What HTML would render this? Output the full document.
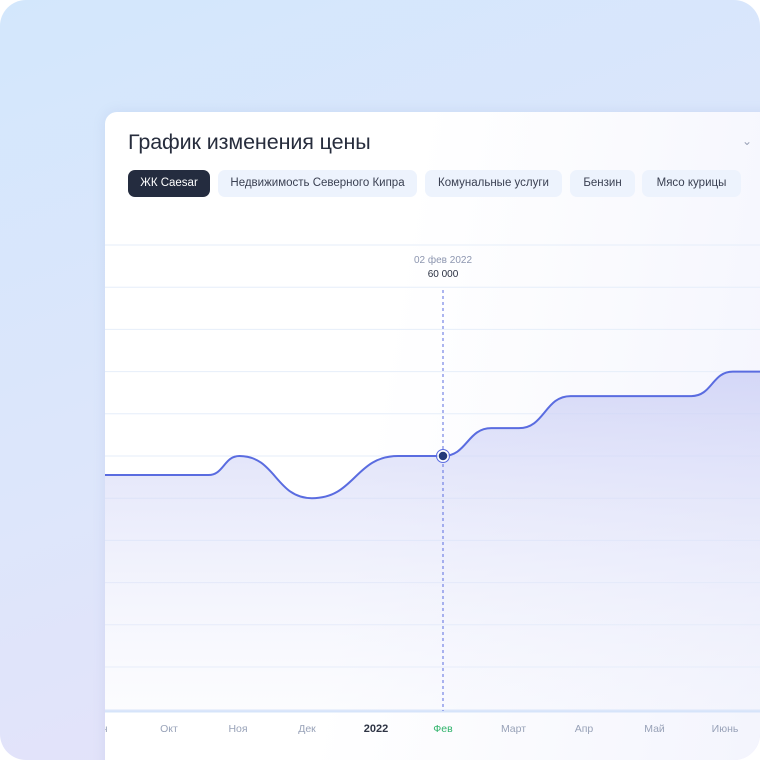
<!DOCTYPE html>
<html><head><meta charset="utf-8"><style>
html,body{margin:0;padding:0;background:#fff}
#root{width:760px;height:760px;position:relative;overflow:hidden;border-radius:26px;background:linear-gradient(160deg,#d3e7fc 0%,#dde6fb 50%,#e7e0f8 100%);font-family:"Liberation Sans","DejaVu Sans",sans-serif}
#card{position:absolute;left:105px;top:112px;width:680px;height:680px;border-radius:12px 0 0 0;background:linear-gradient(100deg,#ffffff 40%,#f3f4fd 100%);box-shadow:0 0 12px rgba(120,140,200,.15)}
h1{position:absolute;left:23px;top:18px;margin:0;font-size:21.5px;font-weight:500;color:#272d3d;letter-spacing:-0.1px}
.chev{position:absolute;left:637px;top:22px;color:#9aa3b8;font-size:12px}
.pill{position:absolute;top:58px;height:27px;line-height:27px;border-radius:7px;background:#edf3fd;color:#3a4052;font-size:11.5px;text-align:center}
.pill.active{background:#242c3f;color:#fff}
svg{position:absolute;left:0;top:0}
</style></head><body>
<div id="root">
<div id="card">
<h1>График изменения цены</h1>
<div class="chev">&#8964;</div>
<div class="pill active" style="left:23px;width:82px">ЖК Caesar</div>
<div class="pill" style="left:113px;width:199px">Недвижимость Северного Кипра</div>
<div class="pill" style="left:320px;width:137px">Комунальные услуги</div>
<div class="pill" style="left:465px;width:65px">Бензин</div>
<div class="pill" style="left:537px;width:99px">Мясо курицы</div>
</div>
<svg id="chart" width="760" height="760">
<defs><linearGradient id="fg" x1="0" y1="0" x2="0" y2="1"><stop offset="0" stop-color="#c9cdf5" stop-opacity=".75"/><stop offset="1" stop-color="#eef0fc" stop-opacity=".2"/></linearGradient>
<clipPath id="cp"><rect x="105" y="112" width="655" height="648"/></clipPath></defs>
</svg>
</div>
<script>
const monthLabels=["Сен","Окт","Ноя","Дек","2022","Фев","Март","Апр","Май","Июнь"];
const gridValues=[35000,40000,45000,50000,55000,60000,65000,70000,75000,80000,85000];
const pointMonths=[0.05,1.6,2.05,3.1,4.35,5,5.7,6.1,6.85,8.6,9.2,9.6];
const pointValues=[57750,57750,60000,55000,60000,60000,63300,63300,67100,67100,70000,70000];
const markerMonth=5, markerValue=60000, markerDate="02 фев 2022", markerText="60 000";
const NS="http://www.w3.org/2000/svg";
const svg=document.getElementById('chart');
const x=m=>98+69*m;
const y=v=>456-(v-60000)/5000*42.2;
const baseY=711;
function mk(t,a,p){const e=document.createElementNS(NS,t);for(const k in a)e.setAttribute(k,a[k]);(p||svg).appendChild(e);return e;}
const plot=mk('g',{'clip-path':'url(#cp)'});


gridValues.forEach(v=>{const l=mk('line',{x1:105,x2:760,y1:y(v),y2:y(v),stroke:'#e6eefa','stroke-width':1},plot);

});
const ax=mk('line',{x1:105,x2:760,y1:baseY,y2:baseY,stroke:'#d6e4fa','stroke-width':3},plot);


let d='M'+x(pointMonths[0])+' '+y(pointValues[0]);
for(let i=1;i<pointMonths.length;i++){const x0=x(pointMonths[i-1]),x1=x(pointMonths[i]),y0=y(pointValues[i-1]),y1=y(pointValues[i]);const mx=(x0+x1)/2;d+=` C${mx} ${y0} ${mx} ${y1} ${x1} ${y1}`;}
const area=mk('path',{d:`M100 ${y(pointValues[0])} L`+d.slice(1)+` L${x(pointMonths[pointMonths.length-1])} ${baseY} L100 ${baseY} Z`,fill:'url(#fg)'},plot);


const line=mk('path',{d:`M100 ${y(pointValues[0])} L`+d.slice(1),fill:'none',stroke:'#5a6ce0','stroke-width':2},plot);


const mx=x(markerMonth),my=y(markerValue);
const cl=mk('line',{x1:mx,x2:mx,y1:290,y2:baseY,stroke:'#5a6ce0','stroke-width':1,'stroke-dasharray':'3 3'});


const pt=mk('circle',{cx:mx,cy:my,r:5,fill:'#233a7a',stroke:'#fff','stroke-width':1.5});


const ring=mk('circle',{cx:mx,cy:my,r:6.5,fill:'none',stroke:'#5a6ce0','stroke-width':1});


const t1=mk('text',{x:mx,y:263,'text-anchor':'middle','font-size':10,fill:'#8d96b0'});t1.textContent=markerDate;


const t2=mk('text',{x:mx,y:277,'text-anchor':'middle','font-size':10,fill:'#2a3042'});t2.textContent=markerText;


const lbls=mk('g',{'clip-path':'url(#cp)'});


monthLabels.forEach((s,i)=>{const bold=s==="2022",act=i===markerMonth;
const t=mk('text',{x:x(i)+(i>markerMonth?(i-markerMonth)*1.5:0)+(i<markerMonth&&i>0?2:0),y:732,'text-anchor':'middle','font-size':bold?11:10.5,'font-weight':bold?'bold':'normal',fill:bold?'#2e3444':act?'#2fb36a':'#98a2b8'},lbls);t.textContent=s;

});
</script>
</body></html>
